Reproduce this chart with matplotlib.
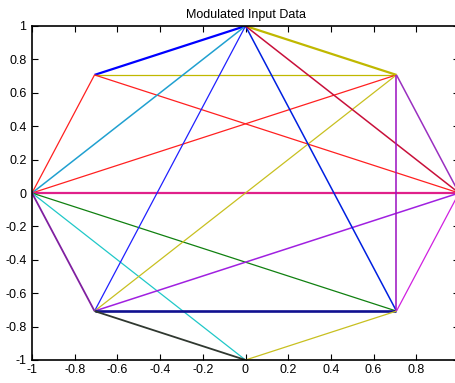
import numpy as np
import matplotlib.pyplot as plt

# 8-PSK constellation points (symbol index -> angle k*45 deg)
symbols = np.arange(8)
pts_x = np.round(np.cos(symbols * np.pi / 4), 4)
pts_y = np.round(np.sin(symbols * np.pi / 4), 4)

# transitions between symbols seen in the plot
segments = [(3, 2), (3, 1), (3, 4), (3, 0), (4, 2), (4, 1), (4, 0), (4, 7),
            (4, 6), (4, 5), (5, 2), (5, 1), (5, 0), (5, 7), (5, 6), (2, 1),
            (2, 7), (2, 0), (1, 7), (1, 0), (0, 7), (6, 7)]
seg_colors = ['#0000ff', '#c0b800', '#ff2020', '#ff2020', '#20a0d0', '#ff2020',
              '#e0208a', '#108010', '#20c8c8', '#8020a0', '#2020ff', '#c8c020',
              '#a020e0', '#101090', '#303830', '#c0b800', '#0020e0', '#c8103a',
              '#9a10c0', '#9a30c0', '#d020e0', '#c8c020']
seg_widths = [1.6, 0.9, 0.9, 0.9, 1.1, 0.9, 1.6, 0.9, 0.9, 1.3, 0.9, 0.9,
              1.1, 1.9, 1.3, 1.6, 1.1, 1.1, 1.1, 1.1, 0.9, 0.9]

xticks = [-1, -0.8, -0.6, -0.4, -0.2, 0, 0.2, 0.4, 0.6, 0.8]
yticks = [-1, -0.8, -0.6, -0.4, -0.2, 0, 0.2, 0.4, 0.6, 0.8, 1]

plt.rcParams['font.family'] = ['Liberation Sans', 'DejaVu Sans']
fig = plt.figure(figsize=(4.55, 3.83), dpi=100)
ax = fig.add_axes([32 / 455, 23 / 383, 427 / 455, 334 / 383])

for (a, b), c, w in zip(segments, seg_colors, seg_widths):
    ax.plot([pts_x[a], pts_x[b]], [pts_y[a], pts_y[b]], color=c, lw=w,
            solid_capstyle='butt')

ax.set_xlim(-1, 1)
ax.set_ylim(-1, 1)
ax.set_xticks(xticks)
ax.set_yticks(yticks)
ax.set_xticklabels(['%g' % t for t in xticks])
ax.set_yticklabels(['%g' % t for t in yticks])
ax.tick_params(direction='in', top=True, right=True, labelsize=9,
               length=4, width=0.8, pad=3)
ax.tick_params(axis='y', pad=4)
for s in ax.spines.values():
    s.set_linewidth(1.2)
ax.set_title('Modulated Input Data', fontsize=9, pad=6)

fig.savefig('out.png', dpi=100)
